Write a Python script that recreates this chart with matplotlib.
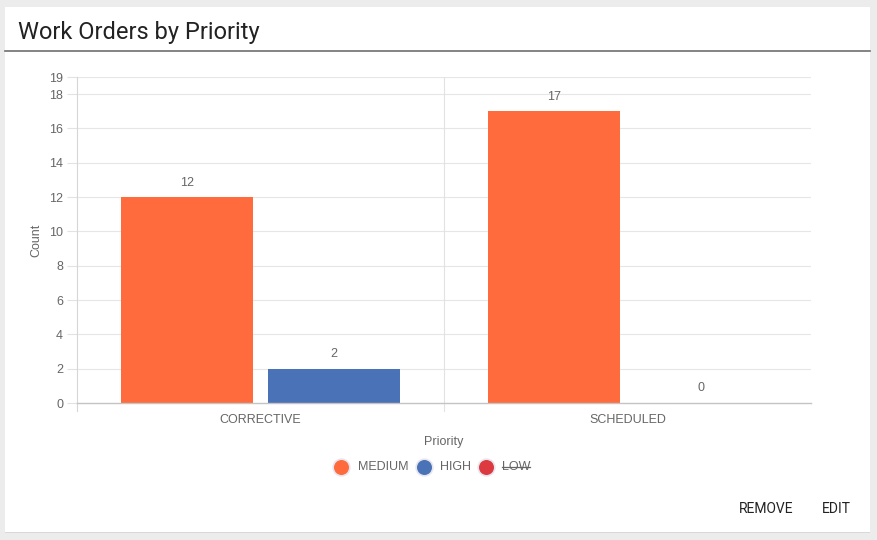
import matplotlib.pyplot as plt
import numpy as np
from matplotlib.patches import Rectangle
from matplotlib.lines import Line2D

categories = ["CORRECTIVE", "SCHEDULED"]
series_names = ["MEDIUM", "HIGH", "LOW"]
series_colors = ["#ff6b3d", "#4a72b6", "#dc3a40"]
medium = [12, 17]
high = [2, 0]
low = [0, 0]  # hidden in the legend (struck out)
y_ticks = [0, 2, 4, 6, 8, 10, 12, 14, 16, 18, 19]

W, H = 878, 540
fig = plt.figure(figsize=(W / 100, H / 100), dpi=100)
fig.patch.set_facecolor("#ececec")

def fx(px):
    return px / W

def fy(py):
    return 1 - py / H

# card
fig.add_artist(Rectangle((fx(5), fy(533)), fx(865), (533 - 7) / H,
                         facecolor="#d8d8d8", edgecolor="none", zorder=0))
fig.add_artist(Rectangle((fx(5), fy(532)), fx(865), (532 - 7) / H,
                         facecolor="white", edgecolor="none", zorder=0))
fig.add_artist(Line2D([fx(5), fx(870)], [fy(51), fy(51)], color="#6e6e6e", lw=1.2))
fig.text(fx(18), fy(32), "Work Orders by Priority", fontsize=17, family="Roboto",
         color="#222222", va="center", ha="left")

ax = fig.add_axes([fx(77), fy(403), fx(811 - 77), (403 - 77) / H])
ax.set_facecolor("none")

x = np.arange(len(categories)) + 0.5
bw = 0.36
ax.bar(x - 0.2, medium, bw, color=series_colors[0], zorder=3)
ax.bar(x + 0.2, high, bw, color=series_colors[1], zorder=3)

lab_font = dict(family="Liberation Sans", color="#666666", fontsize=9)
for xi, v in zip(x - 0.2, medium):
    ax.annotate(str(v), (xi, v), xytext=(0, 10), textcoords="offset points",
                ha="center", va="center", **lab_font)
for xi, v in zip(x + 0.2, high):
    ax.annotate(str(v), (xi, v), xytext=(0, 10.5), textcoords="offset points",
                ha="center", va="center", **lab_font)

ax.set_xlim(0, 2)
ax.set_ylim(0, 19)
ax.set_yticks(y_ticks)
ax.set_yticklabels([str(t) for t in y_ticks], **lab_font)
ax.set_xticks(x)
ax.set_xticklabels(categories, **lab_font)
ax.tick_params(axis="x", length=0, pad=8)
ax.tick_params(axis="y", length=7, color="#e2e2e2", pad=3)

for t in y_ticks[1:]:
    ax.axhline(t, color="#e6e6e6", lw=0.8, zorder=1)
ax.axvline(1, color="#e2e2e2", lw=0.8, zorder=1)
ax.plot([1, 1], [0, -0.45], color="#e2e2e2", lw=0.8, clip_on=False)
ax.plot([0, 0], [0, -0.45], color="#d6d6d6", lw=0.8, clip_on=False)

for s in ["top", "right"]:
    ax.spines[s].set_visible(False)
ax.spines["left"].set_color("#d6d6d6")
ax.spines["left"].set_linewidth(0.8)
ax.spines["bottom"].set_color("#c4c4c4")
ax.spines["bottom"].set_linewidth(1.0)
ax.spines["bottom"].set_zorder(4)

ax.set_ylabel("Count", labelpad=5, **lab_font)
ax.set_xlabel("Priority", labelpad=7, **lab_font)

# legend
leg_marker_x = [341, 424, 486]
leg_text_x = [358, 440, 502]
for name, col, mx, tx in zip(series_names, series_colors, leg_marker_x, leg_text_x):
    fig.add_artist(Line2D([fx(mx)], [fy(467)], marker="o", markersize=12,
                          markerfacecolor=col, markeredgecolor="#e6e6ee",
                          markeredgewidth=1.2, linestyle="none"))
    t = fig.text(fx(tx), fy(467), name, ha="left", va="center", **lab_font)
    if name == "LOW":
        fig.canvas.draw()
        bb = t.get_window_extent()
        fig.add_artist(Line2D([bb.x0 / W, bb.x1 / W], [fy(467), fy(467)],
                              color="#666666", lw=0.9))

btn_font = dict(family="Roboto", color="#222222", fontsize=10)
fig.text(fx(766), fy(509), "REMOVE", ha="center", va="center", **btn_font)
fig.text(fx(836), fy(509), "EDIT", ha="center", va="center", **btn_font)

fig.savefig("out.png", dpi=100, facecolor=fig.get_facecolor())
